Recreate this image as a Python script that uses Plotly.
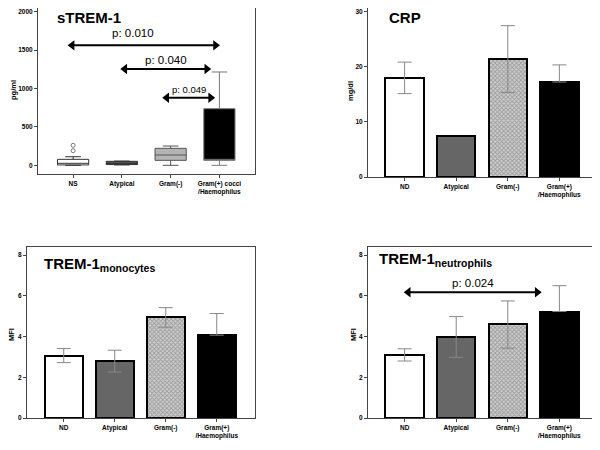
import plotly.graph_objects as go

# ---------------- data ----------------
box_cats = ["NS", "Atypical", "Gram(-)", "Gram(+) cocci<br>/Haemophilus"]
box_low = [0, 5, 0, 0]
box_q1 = [5, 10, 65, 65]
box_med = [26, 25, 134, 65]
box_q3 = [78, 52, 221, 737]
box_high = [112, 55, 251, 1215]
outlier_x = [0, 0]
outlier_y = [190, 260]

bar_cats = ["ND", "Atypical", "Gram(-)", "Gram(+)<br>/Haemophilus"]
crp_mean = [17.9, 7.5, 21.4, 17.2]
crp_up = [20.8, None, 27.4, 20.3]
crp_lo = [15.1, None, 15.3, None]

mono_mean = [3.04, 2.79, 4.95, 4.07]
mono_up = [3.41, 3.33, 5.42, 5.13]
mono_lo = [2.72, 2.26, 4.46, None]

neut_mean = [3.09, 3.98, 4.60, 5.23]
neut_up = [3.40, 4.98, 5.75, 6.50]
neut_lo = [2.80, 2.98, 3.43, None]

# label, x start, x end, y of arrow, text x, text y, text size
p_box = [("p: 0.010", -0.02, 2.92, 1562, 1.22, 1719, 11.5),
         ("p: 0.040", 1.06, 2.74, 1254, 1.9, 1371, 11.5),
         ("p: 0.049", 1.92, 2.82, 880, 2.38, 990, 9.5)]
p_neut = [("p: 0.024", 0.07, 2.57, 6.18, 1.33, 6.65, 11.5)]

# ---------------- styles ----------------
fills = ["#ffffff", "#666666", "#c8c8c8", "#000000"]
box_fills = ["#ffffff", "#555555", "#b4b4b4", "#000000"]
box_lines = ["#333333", "#333333", "#555555", "#777777"]
FONT = "Liberation Sans, Arial, sans-serif"
checker = dict(shape="x", size=3, solidity=0.5, fgcolor="#666666", bgcolor="#d0d0d0")

W, H = 600, 450
OFF = 8  # page body margin offset

def px(X):
    return min(max((X - OFF) / W, 0), 1)

def py(Y):
    return min(max(1 - (Y - OFF) / H, 0), 1)

fig = go.Figure()

def dom(x0, x1, y0, y1):
    return [px(x0), px(x1)], [py(y1), py(y0)]

panels = {
    1: dom(38, 255, 8, 174),
    2: dom(368, 596, 8, 177),
    3: dom(27, 255, 247, 418),
    4: dom(368, 596, 247, 418),
}
yranges = {1: [-113, 2048], 2: [0, 30.6], 3: [0, 8.4], 4: [0, 8.4]}
xranges = {1: [-0.72, 3.73], 2: [-0.71, 3.71], 3: [-0.72, 3.75], 4: [-0.71, 3.71]}
yticks = {1: [0, 500, 1000, 1500, 2000], 2: [0, 10, 20, 30],
          3: [0, 2, 4, 6, 8], 4: [0, 2, 4, 6, 8]}

# ---- panel 1: box plot ----
for i in range(4):
    fig.add_trace(go.Box(
        x=[i], q1=[box_q1[i]], median=[box_med[i]], q3=[box_q3[i]],
        lowerfence=[box_low[i]], upperfence=[box_high[i]],
        width=0.64, whiskerwidth=0.5,
        fillcolor=box_fills[i],
        line=dict(color=box_lines[i], width=1),
        xaxis="x", yaxis="y", showlegend=False, hoverinfo="skip"))
fig.add_trace(go.Scatter(
    x=outlier_x, y=outlier_y, mode="markers",
    marker=dict(symbol="circle-open", size=4, color="#777777", line=dict(width=1)),
    xaxis="x", yaxis="y", showlegend=False, hoverinfo="skip"))

# ---- bar panels ----
def add_bars(means, ups, los, ax):
    for i in range(4):
        m = means[i]
        if ups[i] is not None:
            err = dict(type="data", symmetric=False,
                       array=[ups[i] - m],
                       arrayminus=[(m - los[i]) if los[i] is not None else 0],
                       color="#888888", thickness=1, width=7)
        else:
            err = dict(visible=False)
        fig.add_trace(go.Bar(
            x=[i], y=[m], width=0.745,
            marker=dict(color=fills[i], line=dict(color="#000000", width=2),
                        pattern=checker if i == 2 else None),
            error_y=err,
            xaxis="x" + str(ax), yaxis="y" + str(ax),
            showlegend=False, hoverinfo="skip"))

add_bars(crp_mean, crp_up, crp_lo, 2)
add_bars(mono_mean, mono_up, mono_lo, 3)
add_bars(neut_mean, neut_up, neut_lo, 4)

# ---- axes ----
layout = dict(width=W, height=H, margin=dict(l=0, r=0, t=0, b=0),
              plot_bgcolor="white", paper_bgcolor="white",
              font=dict(family=FONT, color="#000000"), bargap=0)
for k in range(1, 5):
    xd, yd = panels[k]
    sx = "" if k == 1 else str(k)
    cats = box_cats if k == 1 else bar_cats
    layout["xaxis" + sx] = dict(
        domain=xd, range=xranges[k], anchor="y" + sx, automargin=False,
        tickvals=[0, 1, 2, 3], ticktext=cats, ticklabeloverflow="allow",
        tickfont=dict(size=6.5, family=FONT, weight="bold"),
        ticks="outside", ticklen=3, tickcolor="#444444",
        showline=True, linecolor="#444444", linewidth=1, mirror=True,
        showgrid=False, zeroline=False, fixedrange=True)
    layout["yaxis" + sx] = dict(
        domain=yd, range=yranges[k], anchor="x" + sx, automargin=False,
        tickvals=yticks[k], ticklabeloverflow="allow",
        tickfont=dict(size=6.5, family=FONT, weight="bold"),
        ticks="outside", ticklen=3, tickcolor="#444444",
        showline=True, linecolor="#444444", linewidth=1, mirror=True,
        showgrid=False, zeroline=False, fixedrange=True)

annotations = []
titles = [("sTREM-1", 55, 17), ("CRP", 386.7, 17),
          ("TREM-1<sub>monocytes</sub>", 41.7, 264), ("TREM-1<sub>neutrophils</sub>", 377, 259)]
for t, X, Y in titles:
    annotations.append(dict(text="<b>" + t + "</b>", x=px(X), y=py(Y),
                            xref="paper", yref="paper", xanchor="left", yanchor="middle",
                            showarrow=False, font=dict(size=15, family=FONT, color="#000")))
ytitles = [("pg/ml", 13, 90), ("mg/dl", 351, 91), ("MFI", 11, 335), ("MFI", 353, 335)]
for t, X, Y in ytitles:
    annotations.append(dict(text="<b>" + t + "</b>", x=px(X), y=py(Y),
                            xref="paper", yref="paper", xanchor="center", yanchor="middle",
                            textangle=-90, showarrow=False,
                            font=dict(size=7.5, family=FONT, color="#000")))

def add_p(items, ax):
    sx = "" if ax == 1 else str(ax)
    for label, x0, x1, yv, tx, ty, fs in items:
        fig.add_trace(go.Scatter(
            x=[x0, x1], y=[yv, yv], mode="lines+markers",
            line=dict(color="#000000", width=2),
            marker=dict(symbol=["triangle-left", "triangle-right"], size=9,
                        color="#000000", line=dict(width=0)),
            xaxis="x" + sx, yaxis="y" + sx, showlegend=False, hoverinfo="skip"))
        annotations.append(dict(text=label, x=tx, y=ty, xref="x" + sx, yref="y" + sx,
                                showarrow=False, xanchor="center", yanchor="middle",
                                font=dict(size=fs, family=FONT, color="#000")))

add_p(p_box, 1)
add_p(p_neut, 4)
layout["annotations"] = annotations
fig.update_layout(**layout)
fig.write_html("out.html")
